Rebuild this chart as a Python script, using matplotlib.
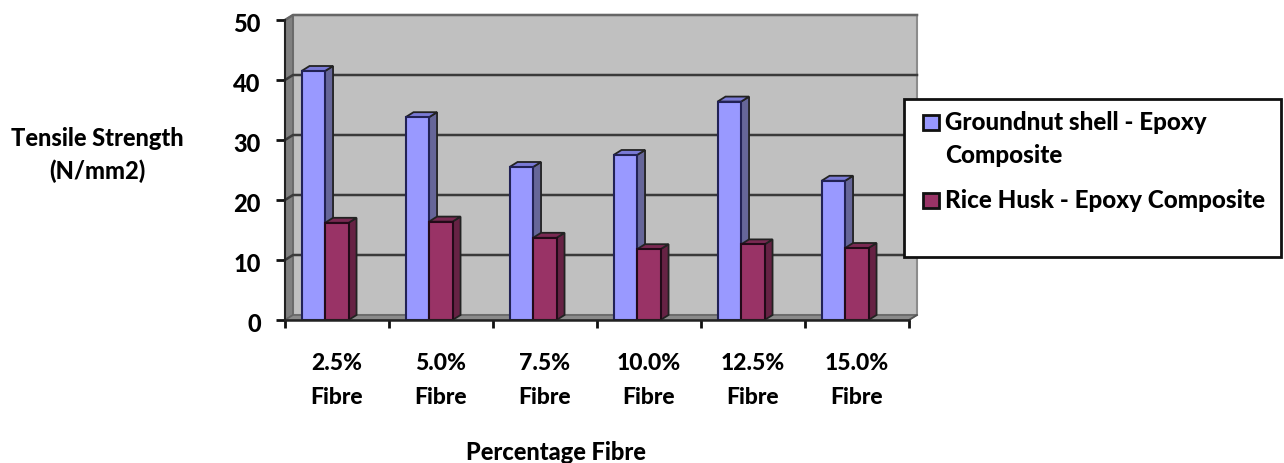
import matplotlib
matplotlib.use('Agg')
import matplotlib.pyplot as plt
from matplotlib.patches import Rectangle
from matplotlib.transforms import Affine2D

categories = ['2.5%\nFibre', '5.0%\nFibre', '7.5%\nFibre', '10.0%\nFibre', '12.5%\nFibre', '15.0%\nFibre']
groundnut = [41.5, 33.8, 25.5, 27.5, 36.4, 23.2]
rice_husk = [16.2, 16.4, 13.7, 11.8, 12.6, 12.0]
series_names = ['Groundnut shell - Epoxy', 'Composite', 'Rice Husk - Epoxy Composite']

W, H = 1284, 463
plt.rcParams['font.family'] = ['Lato', 'DejaVu Sans']
plt.rcParams['font.weight'] = 'black'

fig = plt.figure(figsize=(W / 100, H / 100), dpi=100)
left, right, top, bottom = 285, 909, 20, 320
ax = fig.add_axes([left / W, 1 - bottom / H, (right - left) / W, (bottom - top) / H])
ax.set_xlim(0, 6)
ax.set_ylim(0, 50)
for s in ax.spines.values():
    s.set_visible(False)
ax.patch.set_visible(False)

# depth of the fake 3d, in data units
dx = 8 / 104
dy = 5 / 6


def poly(xs, ys, fc, ec='#222222', lw=1.3, z=2):
    ax.fill(xs, ys, facecolor=fc, edgecolor=ec, linewidth=lw, zorder=z, clip_on=False)


# walls and floor
poly([dx, 6 + dx, 6 + dx, dx], [dy, dy, 50 + dy, 50 + dy], '#c0c0c0', ec='#8c8c8c', lw=1.5, z=1)
poly([0, dx, dx, 0], [0, dy, 50 + dy, 50], '#808080', ec='#666666', lw=1.2, z=1)
poly([0, 6, 6 + dx, dx], [0, 0, dy, dy], '#8a8a8a', ec='#666666', lw=1.2, z=1)

# gridlines
for v in range(10, 60, 10):
    color = '#3a3a3a' if v < 50 else '#666666'
    ax.plot([0, dx, 6 + dx], [v, v + dy, v + dy], color=color, lw=1.8, zorder=1.5, clip_on=False)

# axis lines
ax.plot([0, 0], [0, 50], color='#222222', lw=1.5, zorder=5, clip_on=False)
ax.plot([0, 6], [0, 0], color='#222222', lw=1.8, zorder=5, clip_on=False)
ax.plot([6, 6 + dx], [0, dy], color='#555555', lw=1.2, zorder=1.6, clip_on=False)

bw = 23.5 / 104
series = [(groundnut, '#9999ff', '#7a7ad6', '#666699'), (rice_husk, '#993366', '#7a2952', '#662244')]
for k, (vals, c_front, c_top, c_side) in enumerate(series):
    for i, v in enumerate(vals):
        x0 = i + 0.4 - bw + k * bw - 0.015
        x1 = x0 + bw
        poly([x1, x1 + dx, x1 + dx, x1], [0, dy, v + dy, v], c_side, z=3 + k * 0.5)
        poly([x0, x1, x1 + dx, x0 + dx], [v, v, v + dy, v + dy], c_top, z=3 + k * 0.5)
        ax.bar(x0, v, width=bw, align='edge', color=c_front, edgecolor='#222255' if k == 0 else '#220a18',
               linewidth=1.5, zorder=3.2 + k * 0.5)

ax.set_xticks(range(7))
ax.set_xticklabels([])
ax.set_yticks(range(0, 60, 10))
ax.tick_params(axis='y', length=6.5, width=2, color='#111111', labelsize=17, pad=11)
ax.tick_params(axis='x', length=6, width=2, color='#111111')
# the value labels sit a little under their ticks
for lab in ax.get_yticklabels():
    lab.set_transform(lab.get_transform() + Affine2D().translate(0, -2))
for i, c in enumerate(categories):
    ax.annotate(c, (i + 0.5, 0), xytext=(0, -33), textcoords='offset pixels', ha='center', va='top',
                fontsize=16.5, linespacing=1.75)

fig.text(97.5 / W, 1 - 155 / H, 'Tensile Strength\n(N/mm2)', ha='center', va='center', fontsize=17, linespacing=1.45)
fig.text(556 / W, 1 - 452 / H, 'Percentage Fibre', ha='center', va='center', fontsize=17)

# legend box
fig.add_artist(Rectangle((904 / W, 1 - 257 / H), 377 / W, 158 / H, transform=fig.transFigure,
                         facecolor='white', edgecolor='#111111', linewidth=2, zorder=10))
fig.add_artist(Rectangle((923 / W, 1 - 130 / H), 16 / W, 15 / H, transform=fig.transFigure,
                         facecolor=series[0][1], edgecolor='#111111', linewidth=2, zorder=11))
fig.add_artist(Rectangle((923 / W, 1 - 208 / H), 16 / W, 15 / H, transform=fig.transFigure,
                         facecolor=series[1][1], edgecolor='#111111', linewidth=2, zorder=11))
fig.text(945 / W, 1 - 122 / H, series_names[0], ha='left', va='center', fontsize=17.4, zorder=12)
fig.text(945 / W, 1 - 155 / H, series_names[1], ha='left', va='center', fontsize=17.4, zorder=12)
fig.text(945 / W, 1 - 201 / H, series_names[2], ha='left', va='center', fontsize=17.4, zorder=12)

fig.savefig('out.png', dpi=100)
